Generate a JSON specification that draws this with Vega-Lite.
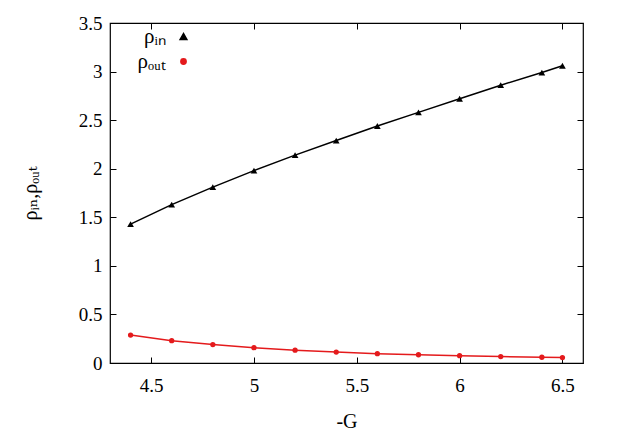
{
  "$schema": "https://vega.github.io/schema/vega-lite/v6.json",
  "width": 473,
  "height": 340,
  "autosize": "none",
  "padding": {"left": 110, "top": 23, "right": 40, "bottom": 73},
  "background": "white",
  "config": {
    "view": {"stroke": "black", "strokeWidth": 1.2},
    "axis": {
      "grid": false,
      "domain": false,
      "tickColor": "black",
      "tickSize": -6,
      "tickWidth": 1,
      "labelFont": "'Liberation Serif', 'DejaVu Serif', serif",
      "titleFont": "'Liberation Serif', 'DejaVu Serif', serif",
      "labelFontSize": 19,
      "labelColor": "black",
      "titleFontSize": 20,
      "titleFontWeight": "normal",
      "titleColor": "black",
      "format": "~g"
    }
  },
  "data": {
    "values": [
      {"G": 4.4, "rho": 1.43, "s": "ρᵢₙ"},
      {"G": 4.6, "rho": 1.63, "s": "ρᵢₙ"},
      {"G": 4.8, "rho": 1.81, "s": "ρᵢₙ"},
      {"G": 5.0, "rho": 1.98, "s": "ρᵢₙ"},
      {"G": 5.2, "rho": 2.14, "s": "ρᵢₙ"},
      {"G": 5.4, "rho": 2.29, "s": "ρᵢₙ"},
      {"G": 5.6, "rho": 2.44, "s": "ρᵢₙ"},
      {"G": 5.8, "rho": 2.58, "s": "ρᵢₙ"},
      {"G": 6.0, "rho": 2.72, "s": "ρᵢₙ"},
      {"G": 6.2, "rho": 2.86, "s": "ρᵢₙ"},
      {"G": 6.4, "rho": 2.99, "s": "ρᵢₙ"},
      {"G": 6.5, "rho": 3.06, "s": "ρᵢₙ"},
      {"G": 4.4, "rho": 0.288, "s": "ρₒᵤₜ"},
      {"G": 4.6, "rho": 0.23, "s": "ρₒᵤₜ"},
      {"G": 4.8, "rho": 0.19, "s": "ρₒᵤₜ"},
      {"G": 5.0, "rho": 0.158, "s": "ρₒᵤₜ"},
      {"G": 5.2, "rho": 0.132, "s": "ρₒᵤₜ"},
      {"G": 5.4, "rho": 0.113, "s": "ρₒᵤₜ"},
      {"G": 5.6, "rho": 0.096, "s": "ρₒᵤₜ"},
      {"G": 5.8, "rho": 0.085, "s": "ρₒᵤₜ"},
      {"G": 6.0, "rho": 0.075, "s": "ρₒᵤₜ"},
      {"G": 6.2, "rho": 0.066, "s": "ρₒᵤₜ"},
      {"G": 6.4, "rho": 0.059, "s": "ρₒᵤₜ"},
      {"G": 6.5, "rho": 0.056, "s": "ρₒᵤₜ"}
    ]
  },
  "resolve": {"axis": {"x": "independent", "y": "independent"}},
  "layer": [
    {
      "mark": {"type": "line", "strokeWidth": 1.5},
      "encoding": {
        "x": {"field": "G", "type": "quantitative", "scale": {"domain": [4.3, 6.6], "nice": false, "zero": false},
              "axis": {"title": "-G", "values": [4.5, 5, 5.5, 6, 6.5], "labelPadding": 19, "titlePadding": 16}},
        "y": {"field": "rho", "type": "quantitative", "scale": {"domain": [0, 3.5], "nice": false},
              "axis": {"title": "ρᵢₙ,ρₒᵤₜ", "values": [0, 0.5, 1, 1.5, 2, 2.5, 3, 3.5], "labelPadding": 14, "titlePadding": 38}},
        "color": {"field": "s", "type": "nominal", "scale": {"domain": ["ρᵢₙ", "ρₒᵤₜ"], "range": ["black", "#e41a1c"]},
                  "legend": {"title": null, "orient": "none", "legendX": 63, "legendY": 3, "labelFont": "'Liberation Serif', serif", "labelFontSize": 21, "labelColor": "black", "labelAlign": "right", "labelOffset": -28, "rowPadding": 3, "symbolSize": 40}}
      }
    },
    {
      "mark": {"type": "point", "filled": true, "opacity": 1},
      "encoding": {
        "x": {"field": "G", "type": "quantitative", "axis": {"orient": "top", "labels": false, "title": null, "values": [4.5, 5, 5.5, 6, 6.5]}},
        "y": {"field": "rho", "type": "quantitative", "axis": {"orient": "right", "labels": false, "title": null, "values": [0, 0.5, 1, 1.5, 2, 2.5, 3, 3.5]}},
        "color": {"field": "s", "type": "nominal", "scale": {"domain": ["ρᵢₙ", "ρₒᵤₜ"], "range": ["black", "#e41a1c"]},
                  "legend": {"title": null, "orient": "none", "legendX": 63, "legendY": 3, "labelFont": "'Liberation Serif', serif", "labelFontSize": 21, "labelColor": "black", "labelAlign": "right", "labelOffset": -28, "rowPadding": 3, "symbolSize": 40}},
        "shape": {"field": "s", "type": "nominal", "scale": {"domain": ["ρᵢₙ", "ρₒᵤₜ"], "range": ["triangle-up", "circle"]},
                  "legend": {"title": null, "orient": "none", "legendX": 63, "legendY": 3, "labelFont": "'Liberation Serif', serif", "labelFontSize": 21, "labelColor": "black", "labelAlign": "right", "labelOffset": -28, "rowPadding": 3, "symbolSize": 40}},
        "size": {"field": "s", "type": "nominal", "scale": {"domain": ["ρᵢₙ", "ρₒᵤₜ"], "range": [45, 28]}, "legend": null}
      }
    }
  ]
}
